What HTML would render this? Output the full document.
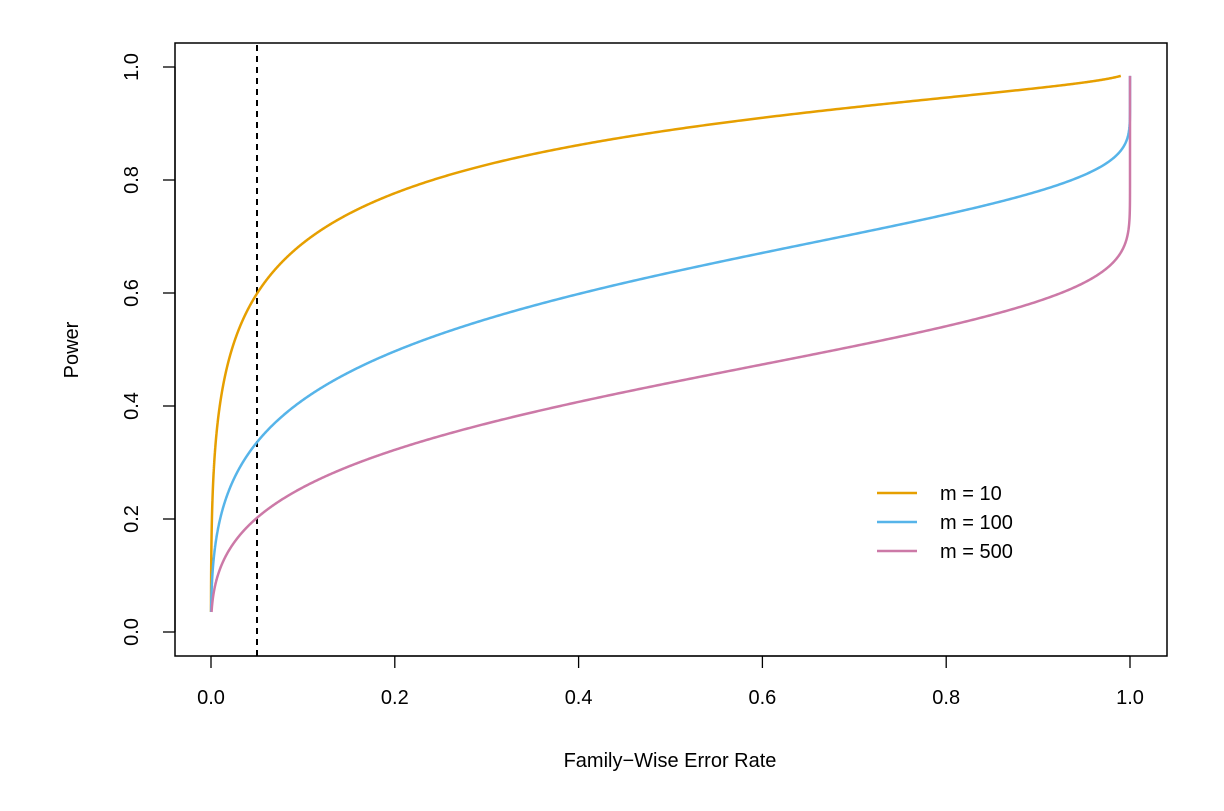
<!DOCTYPE html>
<html><head><meta charset="utf-8"><style>
body{margin:0;background:#fff}
svg text{font-family:"Liberation Sans",Arial,sans-serif;font-size:20px;fill:#000}
</style></head><body>
<svg id="s" width="1224" height="806" xmlns="http://www.w3.org/2000/svg">
<rect x="175" y="43" width="992" height="613" fill="none" stroke="#000" stroke-width="1.5"/>
<g stroke="#000" stroke-width="1.3">
<line x1="211" y1="656" x2="1130" y2="656"/>
<line x1="211" y1="656" x2="211" y2="668"/><line x1="394.8" y1="656" x2="394.8" y2="668"/>
<line x1="578.6" y1="656" x2="578.6" y2="668"/><line x1="762.4" y1="656" x2="762.4" y2="668"/>
<line x1="946.2" y1="656" x2="946.2" y2="668"/><line x1="1130" y1="656" x2="1130" y2="668"/>
<line x1="175" y1="632" x2="175" y2="67"/>
<line x1="175" y1="632" x2="163" y2="632"/><line x1="175" y1="519" x2="163" y2="519"/>
<line x1="175" y1="406" x2="163" y2="406"/><line x1="175" y1="293" x2="163" y2="293"/>
<line x1="175" y1="180" x2="163" y2="180"/><line x1="175" y1="67" x2="163" y2="67"/>
</g>
<g text-anchor="middle">
<text x="211" y="704">0.0</text><text x="394.8" y="704">0.2</text><text x="578.6" y="704">0.4</text>
<text x="762.4" y="704">0.6</text><text x="946.2" y="704">0.8</text><text x="1130" y="704">1.0</text>
<text x="670" y="767">Family−Wise Error Rate</text>
<text transform="translate(138,632) rotate(-90)">0.0</text>
<text transform="translate(138,519) rotate(-90)">0.2</text>
<text transform="translate(138,406) rotate(-90)">0.4</text>
<text transform="translate(138,293) rotate(-90)">0.6</text>
<text transform="translate(138,180) rotate(-90)">0.8</text>
<text transform="translate(138,67) rotate(-90)">1.0</text>
<text transform="translate(78,350) rotate(-90)">Power</text>
</g>
<line x1="257" y1="656" x2="257" y2="43" stroke="#000" stroke-width="2" stroke-dasharray="6,5"/>
<g id="curves" fill="none" stroke-width="2.5"></g>
<g stroke-width="2.5">
<line x1="877" y1="493" x2="917" y2="493" stroke="#E69F00"/>
<line x1="877" y1="522" x2="917" y2="522" stroke="#56B4E9"/>
<line x1="877" y1="551" x2="917" y2="551" stroke="#CC79A7"/>
</g>
<text x="940" y="500">m = 10</text>
<text x="940" y="529">m = 100</text>
<text x="940" y="558">m = 500</text>
</svg>
<script>
function Phi(x){var t=1/(1+0.2316419*Math.abs(x));var d=0.3989422804*Math.exp(-x*x/2);
var p=d*t*(0.31938153+t*(-0.356563782+t*(1.781477937+t*(-1.821255978+t*1.330274429))));return x>0?1-p:p;}
function invPhi(p){var a=[-39.69683028665376,220.9460984245205,-275.9285104469687,138.3577518672690,-30.66479806614716,2.506628277459239],
b=[-54.47609879822406,161.5858368580409,-155.6989798598866,66.80131188771972,-13.28068155288572],
c=[-0.007784894002430293,-0.3223964580411365,-2.400758277161838,-2.549732539343734,4.374664141464968,2.938163982698783],
d=[0.007784695709041462,0.3224671290700398,2.445134137142996,3.754408661907416],pl=0.02425,q,r;
if(p<pl){q=Math.sqrt(-2*Math.log(p));return(((((c[0]*q+c[1])*q+c[2])*q+c[3])*q+c[4])*q+c[5])/((((d[0]*q+d[1])*q+d[2])*q+d[3])*q+1);}
if(p>1-pl){q=Math.sqrt(-2*Math.log(1-p));return-(((((c[0]*q+c[1])*q+c[2])*q+c[3])*q+c[4])*q+c[5])/((((d[0]*q+d[1])*q+d[2])*q+d[3])*q+1);}
q=p-0.5;r=q*q;return(((((a[0]*r+a[1])*r+a[2])*r+a[3])*r+a[4])*r+a[5])*q/(((((b[0]*r+b[1])*r+b[2])*r+b[3])*r+b[4])*r+1);}
var g=document.getElementById('curves'),delta=3.05;
[[10,'#E69F00'],[100,'#56B4E9'],[500,'#CC79A7']].forEach(function(o){
var m=o[0],pts=[];for(var i=0;i<=1500;i++){var la=Math.log(1.2e-6)+(Math.log(0.369)-Math.log(1.2e-6))*i/1500;var al=Math.exp(la);
var z=-invPhi(al/2);var pw=Phi(delta-z)+Phi(-delta-z);var f=1-Math.pow(1-al,m);
pts.push((211+919*f).toFixed(2)+','+(632-565*pw).toFixed(2));}
var p=document.createElementNS('http://www.w3.org/2000/svg','polyline');p.setAttribute('points',pts.join(' '));p.setAttribute('stroke',o[1]);g.appendChild(p);});
</script>
</body></html>
